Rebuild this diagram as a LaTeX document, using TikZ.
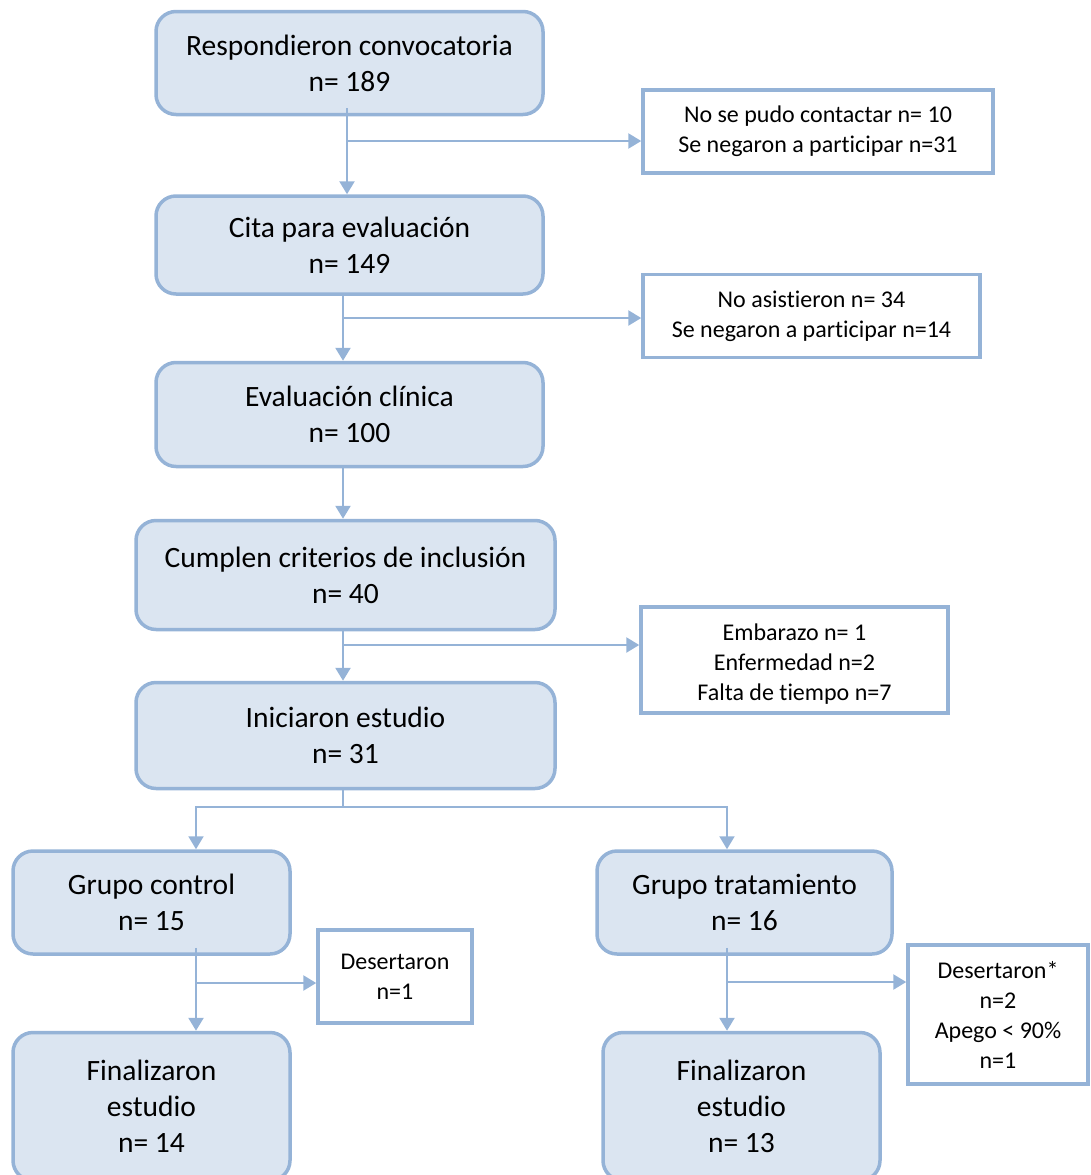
\documentclass[tikz,border=0pt]{standalone}
\usepackage{fontspec}
\setmainfont{Carlito}[Ligatures=NoCommon]
\usetikzlibrary{arrows.meta,calc}
\definecolor{bd}{HTML}{95B3D7}
\definecolor{fl}{HTML}{DBE5F1}
\begin{document}
\begin{tikzpicture}[x=1pt,y=-1pt,
 mainbox/.style={draw=bd,fill=fl,line width=3.5pt,rounded corners=20pt,align=center,font=\fontsize{29.5}{36}\selectfont,inner sep=0pt},
 sidebox/.style={draw=bd,fill=white,line width=3.5pt,align=center,font=\fontsize{24}{30}\selectfont,inner sep=0pt},
 sidetext/.style={align=center,font=\fontsize{24}{30}\selectfont,inner sep=0pt},
 conn/.style={draw=bd,line width=2.5pt},
 arr/.style={conn,-{Triangle[width=15pt,length=13pt]}}]
\useasboundingbox (0,0) rectangle (1090,1175);
% main boxes
\node[mainbox,minimum width=387pt,minimum height=103pt] (r1) at (349.5,63) {Respondieron convocatoria\\n= 189};
\node[mainbox,minimum width=387pt,minimum height=98pt] (r2) at (349.5,245) {Cita para evaluación\\n= 149};
\node[mainbox,minimum width=387pt,minimum height=104pt] (r3) at (349.5,414.5) {Evaluación clínica\\n= 100};
\node[mainbox,minimum width=419pt,minimum height=109pt] (r4) at (345.5,575) {Cumplen criterios de inclusión\\n= 40};
\node[mainbox,minimum width=419pt,minimum height=106pt] (r5) at (345.5,735.5) {Iniciaron estudio\\n= 31};
\node[mainbox,minimum width=277pt,minimum height=103pt] (g1) at (151.5,902.5) {Grupo control\\n= 15};
\node[mainbox,minimum width=295pt,minimum height=103pt] (g2) at (744.5,902.5) {Grupo tratamiento\\n= 16};
\node[mainbox,minimum width=277pt,minimum height=148pt] (f1) at (151.5,1106.5) {Finalizaron\\estudio\\n= 14};
\node[mainbox,minimum width=277pt,minimum height=148pt] (f2) at (741.5,1106.5) {Finalizaron\\estudio\\n= 13};
% side boxes
\node[sidebox,minimum width=350pt,minimum height=83pt] (sA) at (818,131.5) {No se pudo contactar n= 10\\Se negaron a participar n=31};
\node[sidebox,minimum width=337pt,minimum height=83pt] (sB) at (811.5,316) {No asistieron n= 34\\Se negaron a participar n=14};
\node[sidebox,minimum width=307pt,minimum height=106pt] (sC) at (794.5,660) {};
\begin{scope}
\clip (643,609) rectangle (946,711);
\node[sidetext] (sCt) at (794.5,664.5) {Embarazo n= 1\\Enfermedad n=2\\Falta de tiempo n=7};
\end{scope}
\node[sidebox,minimum width=154pt,minimum height=93pt] (sD) at (395,976.5) {Desertaron\\n=1};
\node[sidebox,minimum width=180pt,minimum height=139pt] (sE) at (998,1014.5) {Desertaron*\\n=2\\Apego < 90\%\\n=1};
% junctions
\coordinate (b1) at (347,141);
\coordinate (b2) at (343,318);
\coordinate (b3) at (343,645);
\coordinate (s0) at (343,807);
\coordinate (b4) at (196,983);
\coordinate (b5) at (727,982);
% connectors
\draw[arr] ([xshift=-2.5pt,yshift=8pt]r1.south) -- ([xshift=-2.5pt]r2.north);
\draw[arr] (b1) -- (b1 -| sA.west);
\draw[arr] ([xshift=-6.5pt]r2.south) -- ([xshift=-6.5pt]r3.north);
\draw[arr] (b2) -- (b2 -| sB.west);
\draw[arr] ([xshift=-6.5pt]r3.south) -- ([xshift=-2.5pt]r4.north);
\draw[arr] ([xshift=-2.5pt]r4.south) -- ([xshift=-2.5pt]r5.north);
\draw[arr] (b3) -- (b3 -| sC.west);
\draw[conn,line width=2pt] ([xshift=-2.5pt]r5.south) -- (s0);
\draw[arr,line width=2pt] (s0) -| ([xshift=44.5pt]g1.north);
\draw[arr,line width=2pt] (s0) -| ([xshift=-17.5pt]g2.north);
\draw[arr] ([xshift=44.5pt,yshift=8pt]g1.south) -- ([xshift=44.5pt]f1.north);
\draw[arr] (b4) -- (b4 -| sD.west);
\draw[arr] ([xshift=-17.5pt,yshift=8pt]g2.south) -- ([xshift=-14.5pt]f2.north);
\draw[arr] (b5) -- (b5 -| sE.west);
\end{tikzpicture}
\end{document}
